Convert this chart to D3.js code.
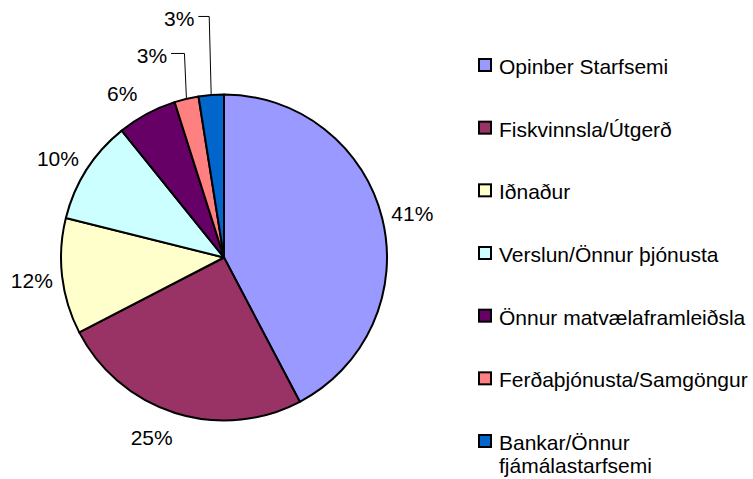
<!DOCTYPE html>
<html>
<head>
<meta charset="utf-8">
<title>Pie</title>
<script src="https://d3js.org/d3.v7.min.js"></script>
<style>
  body { margin: 0; background: #fff; }
  svg text { font-family: "Liberation Sans", Arial, sans-serif; font-size: 21px; fill: #000; }
</style>
</head>
<body>
<div id="chart"></div>
<script>
  // data
  const categories = [
    "Opinber Starfsemi",
    "Fiskvinnsla/Útgerð",
    "Iðnaður",
    "Verslun/Önnur þjónusta",
    "Önnur matvælaframleiðsla",
    "Ferðaþjónusta/Samgöngur",
    "Bankar/Önnur fjámálastarfsemi"
  ];
  const shares = [42.3, 25.1, 11.5, 10.3, 5.9, 2.4, 2.5];
  const percentLabels = ["41%", "25%", "12%", "10%", "6%", "3%", "3%"];
  const colors = ["#9999FF", "#993366", "#FFFFCC", "#CCFFFF", "#660066", "#FF8080", "#0066CC"];

  const width = 753, height = 479;
  const cx = 224, cy = 257.5, radius = 163;
  const labelRadius = 193.5;

  // small nudges (degrees) to the label angle so they sit where excel put them
  const labelShift = { 0: 0.6, 1: 4.5, 3: -1.7, 4: -3.5 };
  // labels moved out with a leader line (angle in degrees, distance from centre)
  const leaderLabels = { 5: { angle: 340.4, dist: 215 }, 6: { angle: 349.4, dist: 243.7 } };

  const svg = d3.select("#chart").append("svg")
    .attr("width", width)
    .attr("height", height);

  const pie = d3.pie().sort(null).value(d => d.value);
  const arcs = pie(categories.map((c, i) => ({ name: c, value: shares[i], label: percentLabels[i], color: colors[i] })));

  const arc = d3.arc().innerRadius(0).outerRadius(radius);

  const g = svg.append("g").attr("transform", `translate(${cx},${cy})`);

  g.selectAll("path")
    .data(arcs)
    .join("path")
    .attr("d", arc)
    .attr("fill", d => d.data.color)
    .attr("stroke", "#000")
    .attr("stroke-width", 2)
    .attr("stroke-linejoin", "round");

  const polar = (a, r) => [r * Math.sin(a), -r * Math.cos(a)];
  const rad = deg => deg * Math.PI / 180;

  arcs.forEach((d, i) => {
    const mid = (d.startAngle + d.endAngle) / 2;
    const t = g.append("text")
      .attr("text-anchor", "middle")
      .attr("dy", "0.36em")
      .text(d.data.label);
    const w = t.node().getComputedTextLength();

    if (leaderLabels[i]) {
      const p = leaderLabels[i];
      const [lx, ly] = polar(rad(p.angle), p.dist);
      t.attr("x", lx).attr("y", ly);
      const [ex, ey] = polar(mid, radius);
      const sx = lx + w / 2 + 4, sy = ly - 1.5;
      g.append("path")
        .attr("d", `M${sx},${sy}H${ex - 2}L${ex},${ey}`)
        .attr("fill", "none")
        .attr("stroke", "#000")
        .attr("stroke-width", 1);
    } else {
      const [lx, ly] = polar(mid + rad(labelShift[i] || 0), labelRadius);
      t.attr("x", lx).attr("y", ly);
    }
  });

  // legend
  const legendY = d3.scalePoint().domain(categories).range([74, 450]);
  const legend = svg.append("g");
  const items = legend.selectAll("g")
    .data(arcs)
    .join("g")
    .attr("transform", d => `translate(0,${legendY(d.data.name)})`);

  items.append("rect")
    .attr("x", 479)
    .attr("y", -15)
    .attr("width", 12)
    .attr("height", 12)
    .attr("fill", d => d.data.color)
    .attr("stroke", "#000")
    .attr("stroke-width", 2);

  items.append("text")
    .attr("x", 499)
    .each(function (d) {
      const el = d3.select(this);
      // long name wraps onto two lines
      const parts = d.data.name === "Bankar/Önnur fjámálastarfsemi"
        ? ["Bankar/Önnur", "fjámálastarfsemi"] : [d.data.name];
      parts.forEach((p, k) => {
        el.append("tspan").attr("x", 499).attr("dy", k === 0 ? 0 : 23).text(p);
      });
    });
</script>
</body>
</html>
